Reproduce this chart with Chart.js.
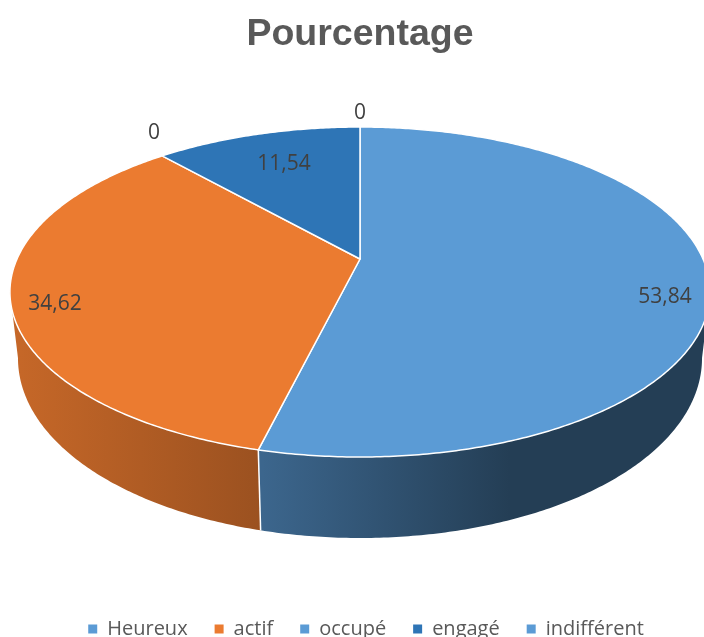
<!DOCTYPE html>
<html>
<head>
<meta charset="utf-8">
<title>Pourcentage</title>
<script src="https://cdn.jsdelivr.net/npm/chart.js@4"></script>
<style>
    html, body { margin: 0; padding: 0; background: #fff; overflow: hidden; }
    #wrap { width: 704px; height: 637px; }
</style>
</head>
<body>
<div id="wrap"><canvas id="pie" width="704" height="637"></canvas></div>
<script>
// Chart data
const categories = ['Heureux', 'actif', 'occupé', 'engagé', 'indifférent'];
const values = [53.84, 34.62, 0, 11.54, 0];
const sliceColors = ['#5B9BD5', '#EB7B30', '#5B9BD5', '#2E75B6', '#5B9BD5'];

// Where the value labels sit (canvas px), same order as the categories
const labelAnchors = [[665, 297], [55, 304], [154, 133], [284, 164], [360, 113]];

// Look of the tilted pie
const tilt = { centerY: 259, radiusX: 343, radiusY: 158.4, perspective: 0.2 };
const wall = { depth: 62.4, depthFront: 18.6, shrink: 0.977 };
// Darkening of the wall from left to right: [x, factor]
const wallShade = [[20, 0.84], [262, 0.66], [510, 0.40], [704, 0.40]];

function project(cx, angle) {
    const u = Math.cos(angle);
    const v = Math.sin(angle);
    const k = 1 - tilt.perspective * v;
    return { x: cx + tilt.radiusX * u / k, y: tilt.centerY + tilt.radiusY * v / k, v: v };
}

function lowerRim(cx, p) {
    return { x: cx + (p.x - cx) * wall.shrink, y: p.y + wall.depth + wall.depthFront * p.v };
}

function shade(hex, f) {
    const n = parseInt(hex.slice(1), 16);
    const r = Math.round((n >> 16 & 255) * f);
    const g = Math.round((n >> 8 & 255) * f);
    const b = Math.round((n & 255) * f);
    return 'rgb(' + r + ',' + g + ',' + b + ')';
}

function rimPoints(cx, start, end) {
    const pts = [];
    const steps = Math.max(2, Math.ceil((end - start) / 0.01));
    for (let i = 0; i <= steps; i++) {
        pts.push(project(cx, start + (end - start) * i / steps));
    }
    return pts;
}

const pie3d = {
    id: 'pie3d',
    afterLayout(chart) {
        // the legend sits a little right of the title
        chart.legend.left += 6;
        chart.legend.right += 6;
    },
    beforeDatasetDraw(chart, args) {
        const ctx = chart.ctx;
        const arcs = args.meta.data;
        // the wall is only seen between the two points where the rim turns back
        const turn = Math.asin(tilt.perspective);
        ctx.save();

        // Side wall first, the top face hides the rest
        arcs.forEach((arc, i) => {
            if (values[i] === 0) return;
            const cx = arc.x;
            const start = Math.max(arc.startAngle, turn);
            const end = Math.min(arc.endAngle, Math.PI - turn);
            if (end <= start) return;
            const top = rimPoints(cx, start, end);
            const grad = ctx.createLinearGradient(wallShade[0][0], 0, wallShade[wallShade.length - 1][0], 0);
            const span = wallShade[wallShade.length - 1][0] - wallShade[0][0];
            wallShade.forEach(s => grad.addColorStop((s[0] - wallShade[0][0]) / span, shade(sliceColors[i], s[1])));
            ctx.beginPath();
            top.forEach((p, j) => j ? ctx.lineTo(p.x, p.y) : ctx.moveTo(p.x, p.y));
            top.slice().reverse().forEach(p => {
                const q = lowerRim(cx, p);
                ctx.lineTo(q.x, q.y);
            });
            ctx.closePath();
            ctx.fillStyle = grad;
            ctx.fill();
        });

        // White seams on the wall
        arcs.forEach((arc, i) => {
            if (values[i] === 0) return;
            const p = project(arc.x, arc.endAngle);
            if (p.v <= 0) return;
            const q = lowerRim(arc.x, p);
            ctx.beginPath();
            ctx.moveTo(p.x, p.y);
            ctx.lineTo(q.x, q.y);
            ctx.strokeStyle = '#fff';
            ctx.lineWidth = 1.5;
            ctx.stroke();
        });

        // Top face
        arcs.forEach((arc, i) => {
            if (values[i] === 0) return;
            ctx.beginPath();
            ctx.moveTo(arc.x, tilt.centerY);
            rimPoints(arc.x, arc.startAngle, arc.endAngle).forEach(p => ctx.lineTo(p.x, p.y));
            ctx.closePath();
            ctx.fillStyle = sliceColors[i];
            ctx.fill();
            ctx.strokeStyle = '#fff';
            ctx.lineWidth = 1.5;
            ctx.lineJoin = 'round';
            ctx.stroke();
        });

        // Value labels
        ctx.font = '21px "Open Sans"';
        ctx.fillStyle = '#404040';
        ctx.textAlign = 'center';
        ctx.textBaseline = 'middle';
        values.forEach((v, i) => {
            ctx.fillText(String(v).replace('.', ','), labelAnchors[i][0], labelAnchors[i][1]);
        });

        ctx.restore();
        return false; // skip the flat arcs
    }
};

new Chart(document.getElementById('pie'), {
    type: 'pie',
    data: {
        labels: categories,
        datasets: [{
            data: values,
            backgroundColor: sliceColors,
            borderWidth: 0
        }]
    },
    options: {
        responsive: false,
        animation: false,
        layout: { padding: { left: 16, bottom: -12 } },
        plugins: {
            title: {
                display: true,
                text: 'Pourcentage',
                color: '#595959',
                font: { family: '"Liberation Sans"', size: 37.5, weight: 'bold' },
                padding: { top: 12, bottom: 10 }
            },
            legend: {
                position: 'bottom',
                labels: {
                    boxWidth: 9,
                    boxHeight: 9,
                    padding: 27,
                    color: '#595959',
                    font: { family: '"Open Sans"', size: 20 }
                }
            },
            tooltip: { enabled: false }
        }
    },
    plugins: [pie3d]
});
</script>
</body>
</html>
